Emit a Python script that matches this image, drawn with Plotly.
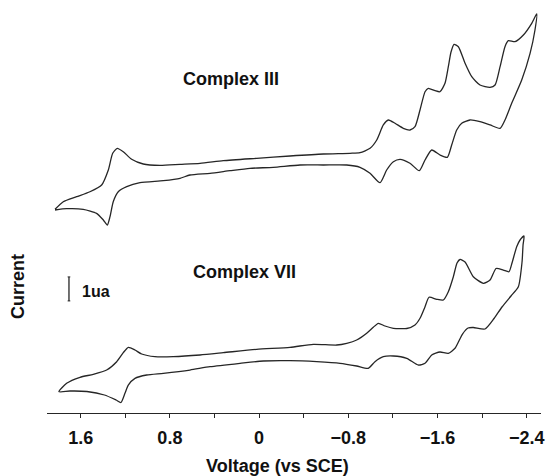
import plotly.graph_objects as go

# ---------------- data ----------------
# Complex III : potential (V vs SCE) and current (uA, relative to its own baseline)
v_iii = [1.830, 1.756, 1.636, 1.517, 1.412, 1.352, 1.313, 1.272, 1.218, 1.143, 1.039, 0.889,
         0.709, 0.530, 0.321, 0.022, -0.277, -0.576, -0.815, -0.905, -0.995, -1.055, -1.114,
         -1.159, -1.219, -1.293, -1.353, -1.398, -1.443, -1.488, -1.517, -1.578, -1.622, -1.667,
         -1.697, -1.721, -1.748, -1.787, -1.847, -1.907, -1.981, -2.071, -2.116, -2.161, -2.205,
         -2.235, -2.295, -2.370, -2.445, -2.490,
         -2.474, -2.430, -2.355, -2.265, -2.205, -2.161, -2.071, -1.981, -1.891, -1.817, -1.772,
         -1.727, -1.688, -1.622, -1.548, -1.488, -1.437, -1.353, -1.264, -1.204, -1.144, -1.084,
         -0.995, -0.905, -0.786, -0.576, -0.367, -0.127, 0.082, 0.261, 0.440, 0.620, 0.709, 0.859,
         1.068, 1.187, 1.263, 1.308, 1.337, 1.361, 1.397, 1.457, 1.577, 1.726, 1.830]
i_iii = [-1.846, -1.529, -1.321, -1.113, -0.833, -0.208, 0.488, 0.696, 0.554, 0.238, 0.042, -0.013,
         0.029, 0.071, 0.179, 0.279, 0.375, 0.458, 0.488, 0.513, 0.696, 1.042, 1.667,
         1.875, 1.738, 1.529, 1.458, 1.596, 2.292, 3.054, 3.196, 3.096, 3.054, 3.404,
         4.096, 4.708, 5.029, 4.929, 4.238, 3.679, 3.333, 3.238, 3.333, 4.096, 4.929,
         5.179, 5.138, 5.417, 5.904, 6.292,
         5.625, 4.654, 3.542, 2.571, 1.875, 1.529, 1.667, 1.804, 1.875, 1.738, 1.458,
         0.833, 0.321, 0.417, 0.625, 0.208, -0.238, 0.071, 0.238, 0.138, -0.208, -0.738,
         -0.346, -0.096, 0.0, 0.0, 0.0, -0.096, -0.138, -0.238, -0.346, -0.417, -0.554, -0.654,
         -0.738, -0.904, -1.113, -1.529, -2.154, -2.500, -2.292, -2.013, -1.846, -1.821, -1.875]

# Complex VII
v_vii = [1.795, 1.726, 1.606, 1.487, 1.367, 1.277, 1.218, 1.173, 1.113, 1.053, 0.934, 0.770,
         0.530, 0.321, 0.022, -0.277, -0.486, -0.696, -0.786, -0.875, -0.965, -1.024, -1.069,
         -1.129, -1.204, -1.324, -1.398, -1.443, -1.488, -1.524, -1.593, -1.652, -1.697, -1.742,
         -1.775, -1.802, -1.847, -1.921, -2.011, -2.071, -2.125, -2.190, -2.241, -2.268, -2.310,
         -2.340, -2.376,
         -2.367, -2.358, -2.325, -2.259, -2.178, -2.107, -2.026, -1.921, -1.874, -1.824, -1.757,
         -1.697, -1.622, -1.548, -1.488, -1.428, -1.324, -1.204, -1.114, -1.039, -0.979, -0.875,
         -0.726, -0.517, -0.277, -0.038, 0.171, 0.440, 0.620, 0.859, 1.008, 1.113, 1.173, 1.203,
         1.239, 1.283, 1.387, 1.544, 1.696, 1.795]
i_vii = [-1.321, -0.971, -0.721, -0.596, -0.417, -0.071, 0.304, 0.529, 0.417, 0.250, 0.138, 0.138,
         0.208, 0.304, 0.446, 0.529, 0.654, 0.625, 0.696, 0.833, 1.113, 1.363, 1.529,
         1.417, 1.321, 1.313, 1.458, 1.738, 2.221, 2.613, 2.529, 2.500, 2.846, 3.471,
         4.042, 4.188, 4.083, 3.471, 3.196, 3.333, 3.813, 3.750, 3.679, 4.042, 4.721,
         5.000, 5.167,
         4.792, 4.083, 3.054, 2.667, 2.208, 1.729, 1.292, 1.354, 1.333, 1.083, 0.488,
         0.279, 0.333, 0.208, -0.138, -0.208, 0.071, 0.167, 0.138, -0.071, -0.346, -0.250,
         -0.138, -0.071, -0.029, -0.042, -0.138, -0.279, -0.417, -0.554, -0.625, -0.763, -1.042, -1.388,
         -1.771, -1.667, -1.458, -1.313, -1.292, -1.321]

tick_vals = [1.6, 1.2, 0.8, 0.4, 0.0, -0.4, -0.8, -1.2, -1.6, -2.0, -2.4]
tick_text = ["1.6", "", "0.8", "", "0", "", "\u22120.8", "", "\u22121.6", "", "\u22122.4"]

# ---------------- layout constants ----------------
OFFSET_III = 10.333   # vertical placement of the Complex III trace (uA units)
OFFSET_VII = 2.208    # vertical placement of the Complex VII trace
FONT = "Liberation Sans"
INK = "#262626"
LINE = dict(color=INK, width=1.3, shape="spline", smoothing=0.6)

fig = go.Figure()
fig.add_trace(go.Scatter(x=v_iii, y=[c + OFFSET_III for c in i_iii], mode="lines",
                         line=LINE, hoverinfo="skip", showlegend=False, cliponaxis=False))
fig.add_trace(go.Scatter(x=v_vii, y=[c + OFFSET_VII for c in i_vii], mode="lines",
                         line=LINE, hoverinfo="skip", showlegend=False, cliponaxis=False))

# 1 uA scale bar
bar_x, bar_y0 = 1.705, 4.67
fig.add_shape(type="line", x0=bar_x, x1=bar_x, y0=bar_y0, y1=bar_y0 + 1,
              line=dict(color=INK, width=1.3))
for yy in (bar_y0, bar_y0 + 1):
    fig.add_shape(type="line", x0=bar_x - 0.012, x1=bar_x + 0.012, y0=yy, y1=yy,
                  line=dict(color=INK, width=1))

ann_font = dict(family=FONT, size=18, color="#111", weight="bold")
fig.add_annotation(x=0.252, y=13.92, text="Complex III", showarrow=False, font=ann_font)
fig.add_annotation(x=0.135, y=5.875, text="Complex VII", showarrow=False, font=ann_font)
fig.add_annotation(x=1.606, y=5.08, text="1ua", showarrow=False, xanchor="left",
                   font=dict(ann_font, size=16))
fig.add_annotation(x=-0.0587, y=0.305, xref="paper", yref="paper", text="Current",
                   xanchor="center", yanchor="middle",
                   showarrow=False, textangle=-90, font=ann_font)
fig.add_annotation(x=0.4676, y=-0.128, xref="paper", yref="paper", text="Voltage (vs SCE)",
                   xanchor="center", yanchor="middle", showarrow=False, font=ann_font)

fig.update_layout(
    width=546, height=476,
    margin=dict(l=47, r=5, t=0, b=63),
    paper_bgcolor="white", plot_bgcolor="white",
    xaxis=dict(range=[1.902, -2.528], showgrid=False, zeroline=False,
               showline=True, linecolor=INK, linewidth=1.3,
               ticks="outside", ticklen=4, tickwidth=1, tickcolor=INK,
               tickvals=tick_vals, ticktext=tick_text, ticklabelstandoff=4,
               tickfont=dict(family=FONT, size=18, color="#111", weight="bold")),
    yaxis=dict(range=[0, 17.208], visible=False, showgrid=False, zeroline=False),
)

fig.write_html("out.html", config={"displayModeBar": False, "staticPlot": True},
               post_script="document.body.style.margin='0';document.body.style.overflow='hidden';")
